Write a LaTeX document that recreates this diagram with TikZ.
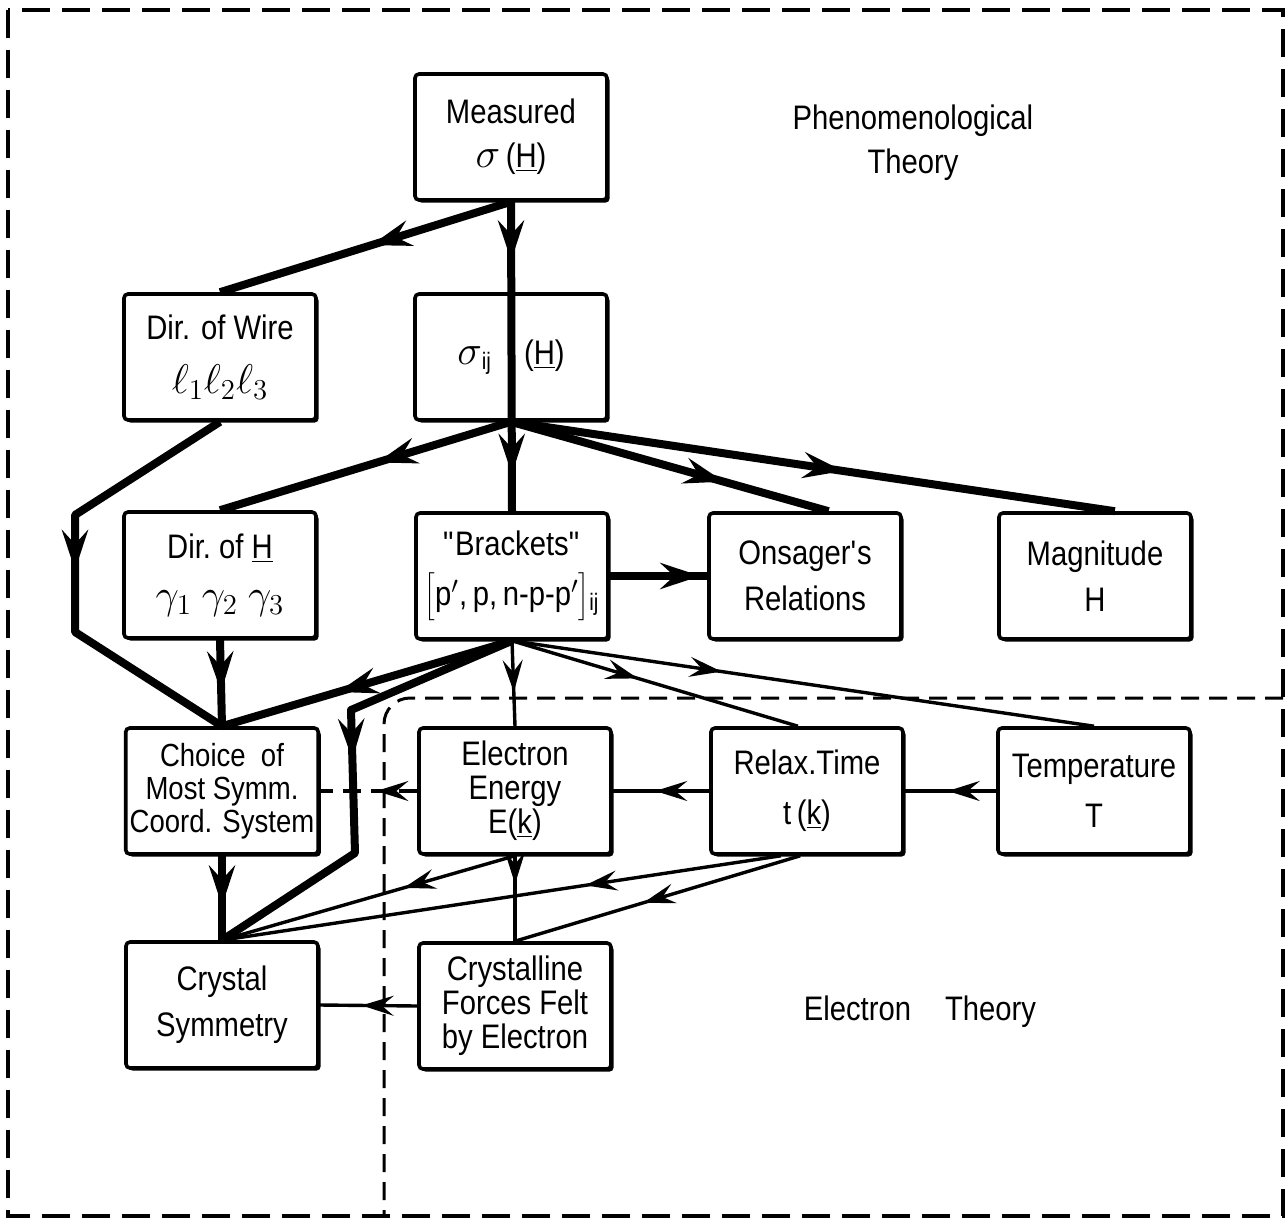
\documentclass[tikz,border=0pt]{standalone}
\usepackage{fontspec}
\setmainfont{Liberation Sans}[FakeStretch=0.86]
\usetikzlibrary{arrows.meta,decorations.markings,shadows}

\newcommand{\bigmath}{\fontsize{21}{21}\selectfont}

\tikzset{
	box/.style={draw, fill=white, line width=1.8pt, rounded corners=2pt, minimum width=96pt, minimum height=63pt, align=center, inner sep=2pt, font=\fontsize{17}{17}\selectfont, drop shadow={shadow xshift=1.3pt, shadow yshift=-1.3pt, opacity=1, fill=black}},
	heavy/.style={line width=4pt, postaction={decorate, decoration={markings, mark=at position #1 with {\arrow{Stealth[length=20pt,width=13pt,inset=7pt]}}}}},
	light/.style={line width=1.7pt, postaction={decorate, decoration={markings, mark=at position #1 with {\arrow{Stealth[length=16pt,width=10pt,inset=6pt]}}}}},
	frame/.style={line width=2.3pt, dash pattern=on 14pt off 6pt},
	border/.style={line width=1.5pt, dash pattern=on 9pt off 5pt},
}

\begin{document}
\begin{tikzpicture}[x=0.5pt, y=-0.5pt]
			%%%%% START %%%%%
			\useasboundingbox (0,0) rectangle (1286,1221);
			
			\draw[frame] (8,10) rectangle (1283,1216);
			\draw[border, rounded corners=13pt] (1283,698) -- (384,698) -- (384,1216);
			
			\node[font=\fontsize{17}{22}\selectfont, align=center] (pheno) at (913,143) {Phenomenological\\Theory};
			\node[font=\fontsize{17}{17}\selectfont] (etheory) at (920,1012) {Electron\quad Theory};
			
			\node[box] (measured) at (511,137) {Measured\\[5pt]{\bigmath$\sigma$}\,(\underline{H})};
			\node[box] (wire) at (220,357) {Dir. of Wire\\[10pt]{\bigmath$\ell_1\ell_2\ell_3$}};
			\node[box] (sigma) at (511,357) {{\bigmath$\sigma$}\textsubscript{ij}\hspace{16pt}(\underline{H})};
			
			\node[box] (dirh) at (220,575) {Dir.\ of \underline{H}\\[8pt]{\bigmath$\gamma_1\ \gamma_2\ \gamma_3$}};
			\node[box] (brackets) at (512,576) {\textquotedbl Brackets\textquotedbl\\[8pt]$\bigg[$p$'$,\,p,\,n-p-p$'$$\bigg]$\textsubscript{ij}};
			\node[box] (onsager) at (805,576) {Onsager\textquotesingle s\\[6pt]Relations};
			\node[box] (magnitude) at (1095,576) {Magnitude\\[6pt]H};
			
			\node[box, font=\fontsize{16}{16.5}\selectfont] (choice) at (222,791) {Choice\ \ of\\Most Symm.\\Coord. System};
			\node[box] (energy) at (515,791) {Electron\\Energy\\E(\underline{k})};
			\node[box] (relax) at (807,791) {Relax.Time\\[8pt]t\,(\underline{k})};
			\node[box] (temp) at (1094,791) {Temperature\\[8pt]T};
			
			\node[box] (crystal) at (222,1005) {Crystal\\[6pt]Symmetry};
			\node[box] (forces) at (515,1006) {Crystalline\\Forces Felt\\by Electron};
			
			% heavy connectors
			\draw[heavy=0.19, heavy=0.88] (measured.south) -- (brackets.north);
			\draw[heavy=0.48] (measured.south) -- (wire.north);
			\draw[heavy=0.46] (sigma.south) -- (dirh.north);
			\draw[heavy=0.67] (sigma.south) -- (onsager.70);
			\draw[heavy=0.55] (sigma.south) -- (magnitude.73);
			\draw[heavy=0.49, line join=round] (wire.south) -- (75,515) -- (75,632) -- (choice.north);
			\draw[heavy=0.6] (dirh.south) -- (choice.north);
			\draw[heavy=0.93] (brackets.east) -- (onsager.west);
			\draw[heavy=0.6] (brackets.south) -- (choice.north);
			\draw[heavy=0.47, line join=round] (brackets.south) -- (351,710) -- (355,853) -- (crystal.north);
			\draw[heavy=0.59] (choice.south) -- (crystal.north);
			
			% light connectors
			\draw[light=0.6] (brackets.south) -- (energy.north);
			\draw[light=0.44] (brackets.south) -- (relax.98);
			\draw[light=0.36] (brackets.south) -- (temp.north);
			\draw[light=0.42, dash pattern=on 9pt off 5pt] (energy.west) -- (choice.east);
			\draw[light=0.56] (relax.west) -- (energy.east);
			\draw[light=0.53] (temp.west) -- (relax.east);
			\draw[light=0.38] (energy.south) -- (crystal.north);
			\draw[light=0.33] (energy.south) -- (forces.north);
			\draw[light=0.35] (relax.-112) -- (crystal.north);
			\draw[light=0.55] (relax.-96) -- (forces.north);
			\draw[light=0.57] (forces.west) -- (crystal.east);
			
			%%%%% END %%%%%
\end{tikzpicture}
\end{document}
